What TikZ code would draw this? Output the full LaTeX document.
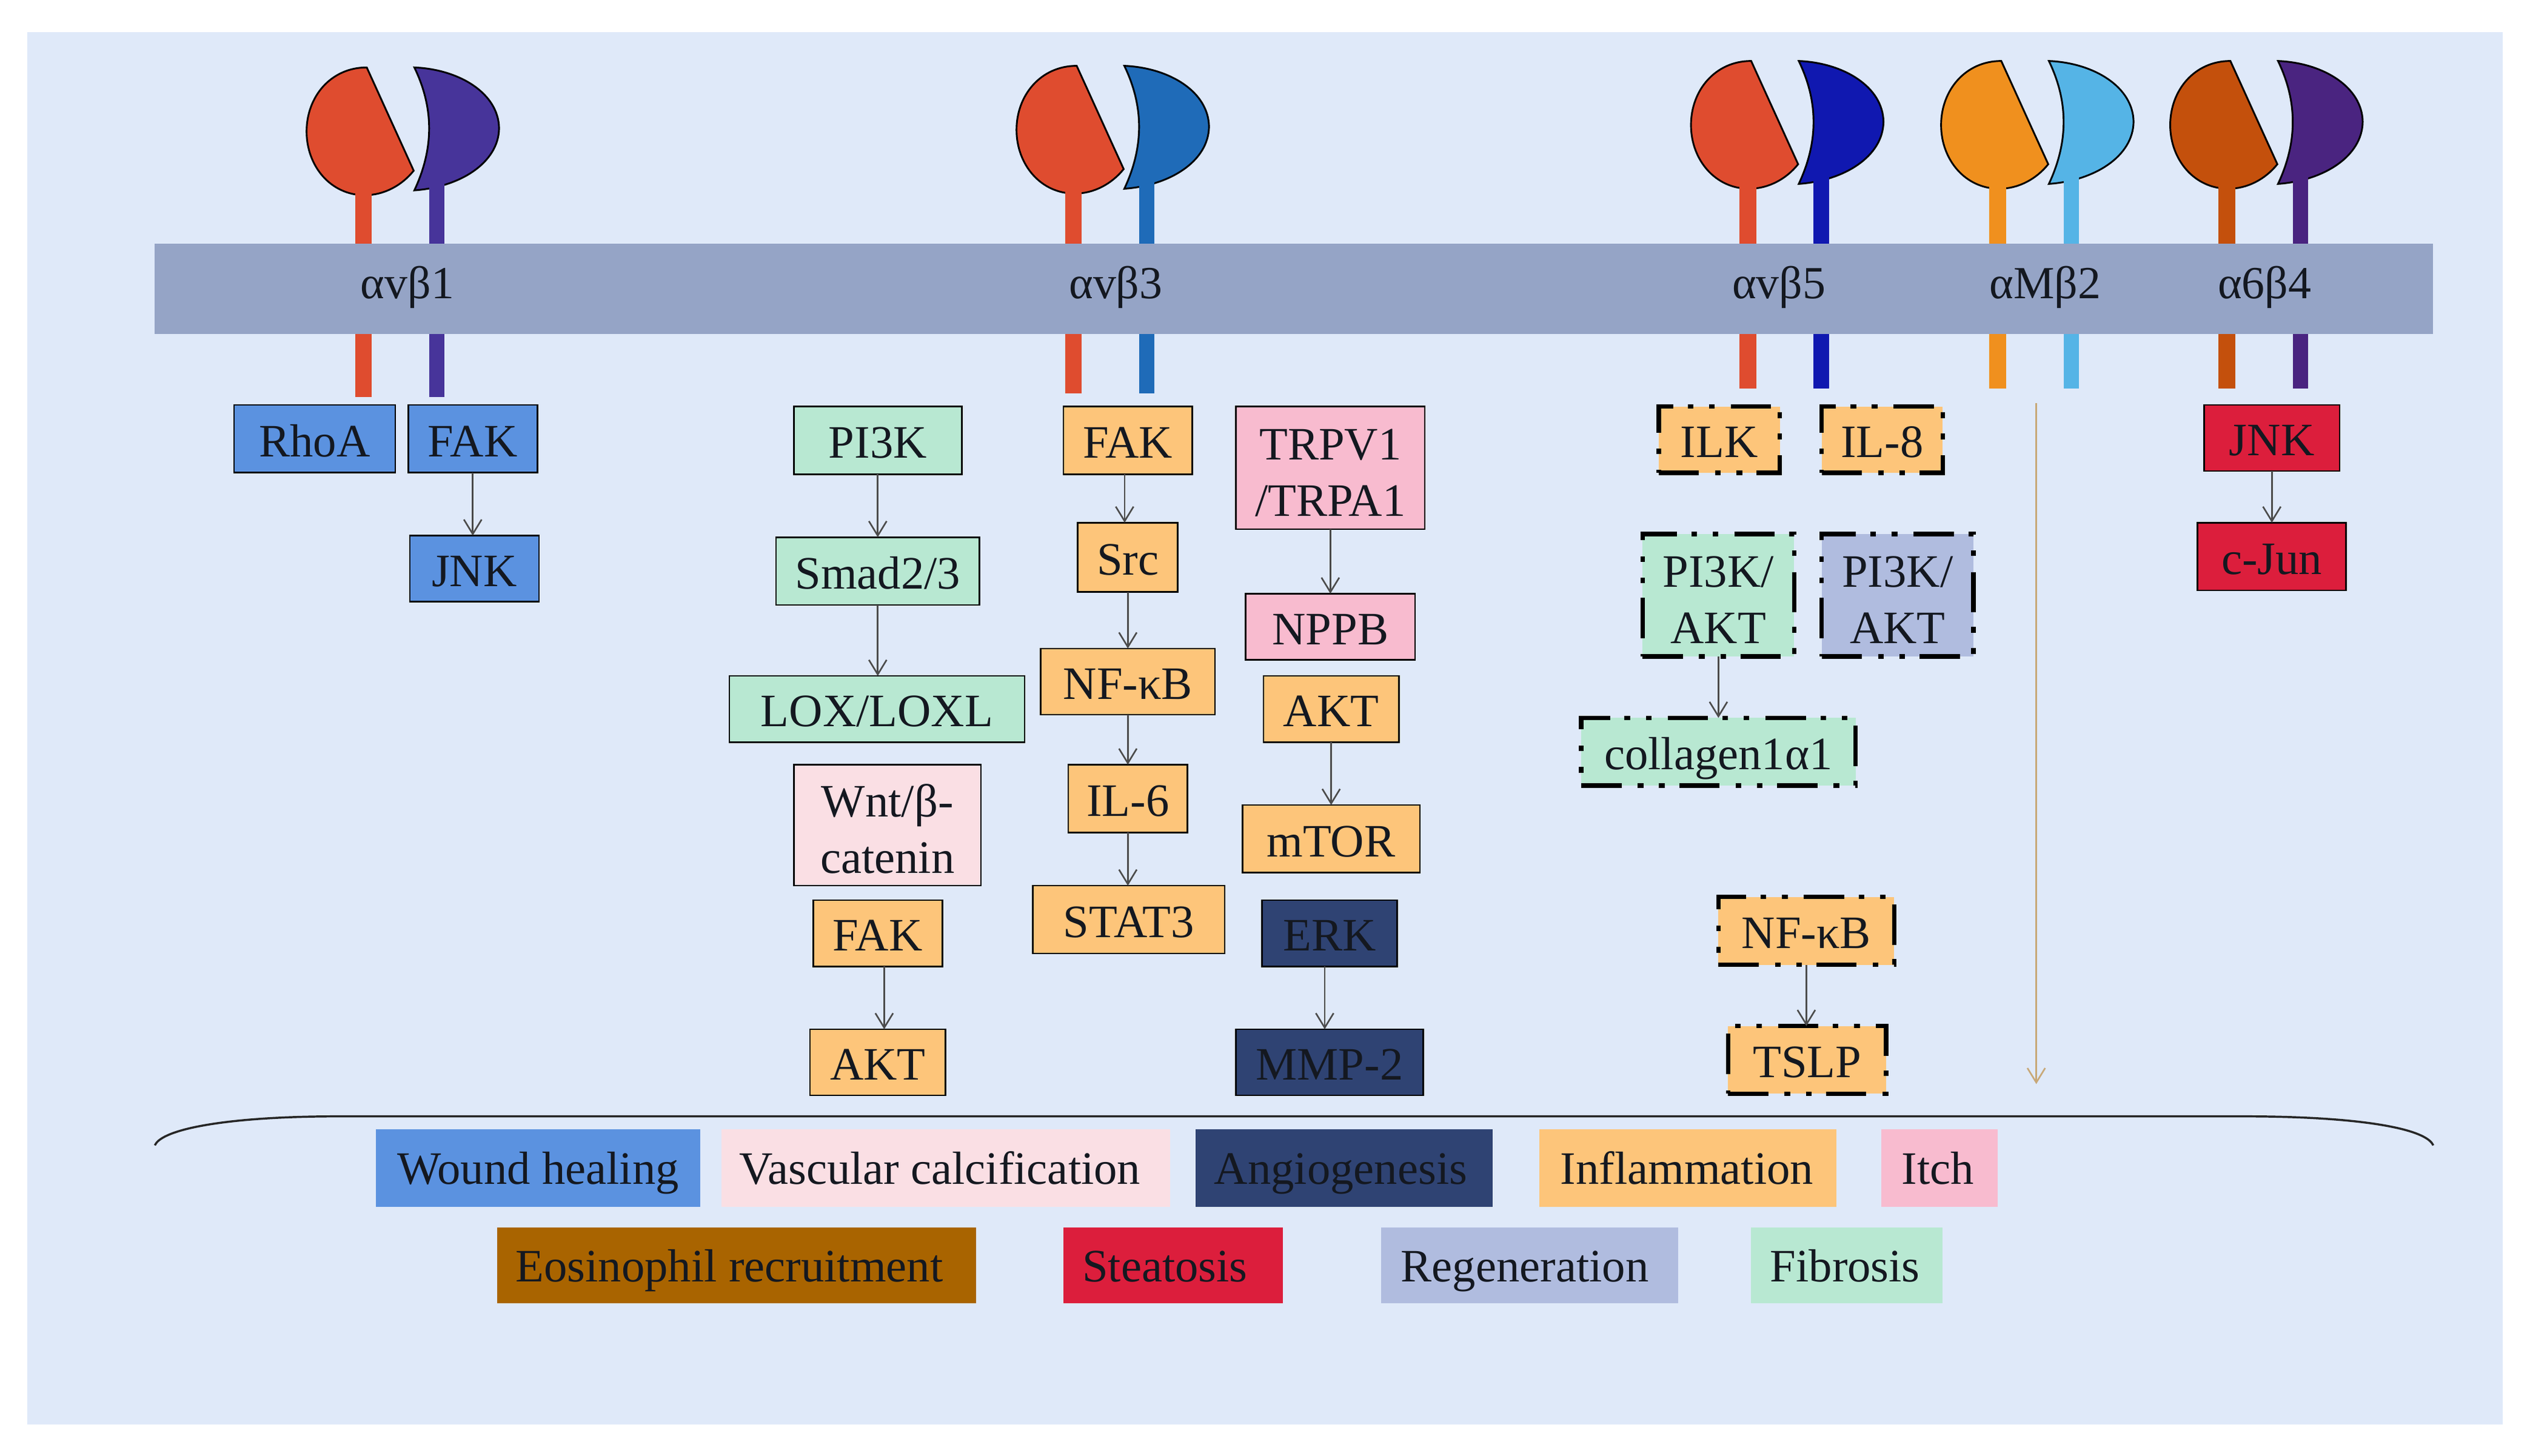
\documentclass[tikz,border=0pt]{standalone}
\usepackage{fontspec}
\setmainfont{Liberation Serif}
\usetikzlibrary{arrows.meta}
\definecolor{panel}{HTML}{DFE9F9}
\definecolor{memb}{HTML}{95A4C6}
\definecolor{cred}{HTML}{DF4C2F}
\definecolor{cviolet}{HTML}{47349A}
\definecolor{cblueA}{HTML}{1F6BB8}
\definecolor{cblueB}{HTML}{1018B0}
\definecolor{corange}{HTML}{F0901E}
\definecolor{csky}{HTML}{55B4E6}
\definecolor{cburnt}{HTML}{C4500C}
\definecolor{cpurple}{HTML}{4A2480}
\definecolor{bblue}{HTML}{5B92E0}
\definecolor{bgreen}{HTML}{B8E8D2}
\definecolor{bpale}{HTML}{FADFE4}
\definecolor{borange}{HTML}{FDC57A}
\definecolor{bpink}{HTML}{F8BBCF}
\definecolor{bnavy}{HTML}{2F4373}
\definecolor{bred}{HTML}{DC1E3C}
\definecolor{blav}{HTML}{B0BCDF}
\definecolor{bbrown}{HTML}{A96400}
\definecolor{ctan}{HTML}{C8A878}
\definecolor{txt}{HTML}{141820}
\tikzset{
  x=1pt,y=-1pt,
  basebox/.style={inner sep=0pt,outer sep=0pt,align=center,text=txt,
    text height=22pt,text depth=0pt,
    font=\fontsize{28.8}{35}\selectfont},
  solidbox/.style={basebox,draw=black,line width=1pt},
  dashbox/.style={basebox,draw=black,line width=2.8pt,
    dash pattern=on 25pt off 10pt on 3.5pt off 9.7pt on 3.5pt off 9pt},
  legendbox/.style={basebox,text height=20pt},
  multi/.style={text height=,text depth=},
  memlabel/.style={inner sep=0pt,text=txt,text height=22pt,text depth=0pt,font=\fontsize{28.5}{35}\selectfont},
  head/.style={draw=black,line width=1.1pt},
  flow/.style={draw=black!70,line width=1pt,-{Straight Barb[length=9pt,width=11pt]}},
}
% name, style, fill, x1, y1, x2, y2, text
\newcommand{\mybox}[8]{%
  \node[#2,fill=#3,minimum width={(#6)-(#4)},minimum height={(#7)-(#5)}] (#1)
    at ({((#4)+(#6))/2},{((#5)+(#7))/2}) {#8};}
\newcommand{\topgap}{\rule{0pt}{25pt}}
% dx, dy, left colour, right colour, leg bottom
\newcommand{\integrin}[5]{%
  \draw[head,fill=#3] ({227.3+#1},{41.8+#2})
    .. controls ({205+#1},{41.8+#2}) and ({190+#1},{60+#2}) .. ({190+#1},{81.5+#2})
    .. controls ({190+#1},{103+#2}) and ({205+#1},{121+#2}) .. ({226+#1},{121+#2})
    .. controls ({238+#1},{121+#2}) and ({249+#1},{115+#2}) .. ({256.4+#1},{105.8+#2}) -- cycle;
  \draw[head,fill=#4] ({256.8+#1},{41.8+#2})
    .. controls ({285+#1},{43+#2}) and ({309+#1},{58+#2}) .. ({309.3+#1},{79.5+#2})
    .. controls ({309+#1},{101+#2}) and ({285+#1},{116+#2}) .. ({256.8+#1},{118+#2})
    .. controls ({269+#1},{92+#2}) and ({269+#1},{67+#2}) .. cycle;
  \fill[#3] ({225+#1-5},{114+#2}) rectangle ({225+#1+5.5},{#5});
  \fill[#4] ({271+#1-5},{112+#2}) rectangle ({271+#1+4.5},{#5});}
\newcommand{\link}[3]{\draw[flow] ([xshift=#3pt]#1.south) -- ([xshift=#3pt]#1.south |- #2.north);}
\begin{document}
\begin{tikzpicture}
\useasboundingbox (0,0) rectangle (1568,902.2);
\fill[white] (0,0) rectangle (1568,902.2);
\fill[panel] (17,20) rectangle (1551,883);
% integrins: legs run behind the membrane
\integrin{0}{0}{cred}{cviolet}{246}
\integrin{440}{-1}{cred}{cblueA}{244}
\integrin{858}{-4}{cred}{cblueB}{241}
\integrin{1013}{-4}{corange}{csky}{241}
\integrin{1155}{-4}{cburnt}{cpurple}{241}
\node[fill=memb,minimum width=1412,minimum height=56,inner sep=0pt,outer sep=0pt] (membrane) at (802,179) {};
\node[memlabel] (l1) at (252.5,174) {αvβ1};
\node[memlabel] (l2) at (691.5,174) {αvβ3};
\node[memlabel] (l3) at (1102.5,174) {αvβ5};
\node[memlabel] (l4) at (1267.5,174) {αMβ2};
\node[memlabel] (l5) at (1403.5,174) {α6β4};
% avb1
\mybox{rhoa}{solidbox}{bblue}{145}{251}{245}{293}{RhoA}
\mybox{fakA}{solidbox}{bblue}{253}{251}{333}{293}{FAK}
\mybox{jnkA}{solidbox}{bblue}{254}{332}{334}{373}{JNK}
% avb3 left column
\mybox{pik}{solidbox}{bgreen}{492}{252}{596}{294}{PI3K}
\mybox{smad}{solidbox}{bgreen}{481}{333}{607}{375}{Smad2/3}
\mybox{lox}{solidbox}{bgreen}{452}{419}{635}{460}{LOX/LOXL}
\mybox{wnt}{solidbox,multi}{bpale}{492}{474}{608}{549}{\topgap Wnt/β-\\catenin}
\mybox{fakB}{solidbox}{borange}{504}{558}{584}{599}{FAK}
\mybox{aktB}{solidbox}{borange}{502}{638}{586}{679}{AKT}
% avb3 middle column
\mybox{fakC}{solidbox}{borange}{659}{252}{739}{294}{FAK}
\mybox{src}{solidbox}{borange}{668}{324}{730}{367}{Src}
\mybox{nfA}{solidbox}{borange}{645}{402}{753}{443}{NF-κB}
\mybox{ilsix}{solidbox}{borange}{662}{474}{736}{516}{IL-6}
\mybox{stat}{solidbox}{borange}{640}{549}{759}{591}{STAT3}
% avb3 right column
\mybox{trp}{solidbox,multi}{bpink}{766}{252}{883}{328}{\topgap TRPV1\\/TRPA1}
\mybox{nppb}{solidbox}{bpink}{772}{368}{877}{409}{NPPB}
\mybox{aktC}{solidbox}{borange}{783}{419}{867}{460}{AKT}
\mybox{mtor}{solidbox}{borange}{770}{499}{880}{541}{mTOR}
\mybox{erk}{solidbox}{bnavy}{782}{558}{866}{599}{ERK}
\mybox{mmp}{solidbox}{bnavy}{766}{638}{882}{679}{MMP-2}
% avb5
\mybox{ilk}{dashbox}{borange}{1028}{252}{1103}{293}{ILK}
\mybox{ileight}{dashbox}{borange}{1129}{252}{1204}{293}{IL-8}
\mybox{piA}{dashbox,multi}{bgreen}{1018}{331}{1112}{407}{\topgap PI3K/\\AKT}
\mybox{piB}{dashbox,multi}{blav}{1129}{331}{1223}{407}{\topgap PI3K/\\AKT}
\mybox{coll}{dashbox}{bgreen}{980}{445}{1150}{487}{collagen1α1}
\mybox{nfB}{dashbox}{borange}{1065}{556}{1174}{598}{NF-κB}
\mybox{tslp}{dashbox}{borange}{1071}{636}{1169}{678}{TSLP}
% a6b4
\mybox{jnkB}{solidbox}{bred}{1366}{251}{1450}{292}{JNK}
\mybox{cjun}{solidbox}{bred}{1362}{324}{1454}{366}{c-Jun}
% connectors
\link{fakA}{jnkA}{0}
\link{pik}{smad}{0}
\link{smad}{lox}{0}
\link{fakB}{aktB}{4}
\link{fakC}{src}{-2}
\link{src}{nfA}{0}
\link{nfA}{ilsix}{0}
\link{ilsix}{stat}{0}
\link{trp}{nppb}{0}
\link{aktC}{mtor}{0}
\link{erk}{mmp}{-3}
\link{piA}{coll}{0}
\link{nfB}{tslp}{0}
\link{jnkB}{cjun}{0}
\coordinate (tanA) at (1262,250);
\coordinate (tanB) at (1262,672);
\draw[flow,draw=ctan] (tanA) -- (tanB);
% bracket
\draw[line width=1.3pt,draw=black!85] (96,710) .. controls (100,700) and (140,692) .. (210,692) -- (1390,692) .. controls (1465,692) and (1504,700) .. (1508,710);
% legend
\mybox{lgA}{legendbox}{bblue}{233}{700}{434}{748}{Wound healing}
\mybox{lgB}{legendbox}{bpale}{447}{700}{725}{748}{Vascular calcification\hspace{7pt}}
\mybox{lgC}{legendbox}{bnavy}{741}{700}{925}{748}{Angiogenesis\hspace{4pt}}
\mybox{lgD}{legendbox}{borange}{954}{700}{1138}{748}{Inflammation\hspace{1pt}}
\mybox{lgE}{legendbox}{bpink}{1166}{700}{1238}{748}{Itch\hspace{2pt}}
\mybox{lgF}{legendbox}{bbrown}{308}{761}{605}{808}{Eosinophil recruitment\hspace{9pt}}
\mybox{lgG}{legendbox}{bred}{659}{761}{795}{808}{Steatosis\hspace{10pt}}
\mybox{lgH}{legendbox}{blav}{856}{761}{1040}{808}{Regeneration\hspace{6pt}}
\mybox{lgI}{legendbox}{bgreen}{1085}{761}{1204}{808}{Fibrosis\hspace{2pt}}
\end{tikzpicture}
\end{document}
